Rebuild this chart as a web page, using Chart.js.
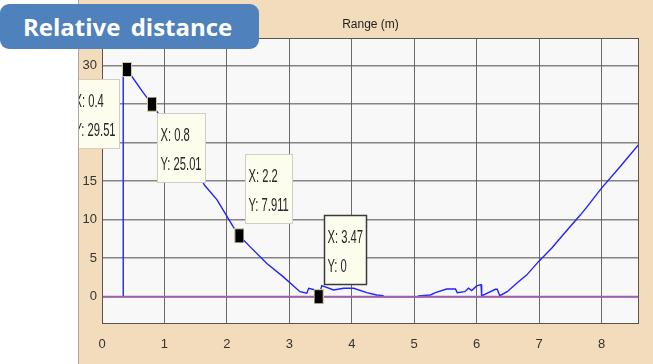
<!DOCTYPE html>
<html>
<head>
<meta charset="utf-8">
<script src="https://cdn.jsdelivr.net/npm/chart.js@4.4.1/dist/chart.umd.min.js"></script>
<style>
  body { margin: 0; background: #fff; }
  #wrap { position: relative; width: 653px; height: 364px; overflow: hidden; }
  #badge {
    position: absolute; left: 0; top: 4px; width: 259px; height: 45px;
    background: #4f81bd; border-radius: 9px; color: #fff;
    font: bold 24px "Open Sans", "Noto Sans", sans-serif; line-height: 45px;
    padding-left: 23px; box-sizing: border-box; word-spacing: 4px;
  }
</style>
</head>
<body>
<div id="wrap">
  <canvas id="rangeChart" width="653" height="364"></canvas>
  <div id="badge">Relative distance</div>
</div>
<script>
// range curve
const curveX = [0.34, 0.34, 0.4, 0.66, 0.8, 1.0, 1.2, 1.4, 1.65, 1.84, 2.1, 2.2, 2.37, 2.64, 2.9, 3.17, 3.28, 3.31, 3.4, 3.45, 3.47, 3.52, 3.71, 3.87, 4.03, 4.24, 4.4, 4.5, 4.5, 5.07, 5.07, 5.26, 5.34, 5.52, 5.66, 5.69, 5.81, 5.87, 5.92, 6.0, 6.07, 6.08, 6.3, 6.33, 6.37, 6.49, 6.65, 6.8, 6.99, 7.2, 7.45, 7.66, 7.77, 8.0, 8.3, 8.6];
const curveY = [0, 30, 29.51, 26.5, 25.01, 22.6, 20.2, 17.6, 14.4, 12.6, 9.1, 7.911, 6.5, 4.3, 2.6, 0.65, 0.44, 1.09, 0.9, 0.9, 0, 1.43, 0.87, 1.09, 1.09, 0.52, 0.22, 0.13, 0, 0, 0.1, 0.22, 0.52, 1.0, 1.0, 0.52, 0.65, 1.1, 0.8, 1.4, 1.56, 0.1, 0.96, 0.96, 0.13, 0.65, 1.82, 2.8, 4.55, 6.3, 8.67, 10.6, 11.7, 14.1, 16.9, 19.8];

// data tips
const tipX = [0.4, 0.8, 2.2, 3.47];
const tipY = [29.51, 25.01, 7.911, 0];

// axes
const xMin = 0, xMax = 8.6;
const yMin = -3.55, yMax = 33.6;
const xStep = 1, yStep = 5;

const narrow = '"Liberation Sans Narrow", "Liberation Sans", Arial, sans-serif';
const tickFont = { family: narrow, size: 13 };

// marker image for the data tips
const marker = document.createElement('canvas');
marker.width = 10; marker.height = 15;
(function () {
    const m = marker.getContext('2d');
    m.fillStyle = '#cfc7a0';
    m.fillRect(0, 0, 10, 15);
    m.fillStyle = '#000';
    m.fillRect(1, 1, 8, 13);
})();

// where each tip box sits next to its marker
const tipPlacement = [
    { side: 'left', dy: 10 },
    { side: 'right', dy: 9 },
    { side: 'right', dy: -82 },
    { side: 'right', dy: -82, active: true }
];

const matlabLook = {
    id: 'matlabLook',
    beforeDraw(chart) {
        const { ctx, chartArea: a, width, height } = chart;
        ctx.save();
        ctx.fillStyle = '#ffffff';
        ctx.fillRect(0, 0, width, height);
        ctx.fillStyle = '#f3dcbb';
        ctx.fillRect(79, 0, width - 79, height);
        ctx.fillStyle = '#f8f8f8';
        ctx.fillRect(a.left, a.top, a.right - a.left, a.bottom - a.top);
        ctx.restore();
    },
    afterDraw(chart) {
        const { ctx, chartArea: a, height } = chart;
        const xs = chart.scales.x, ys = chart.scales.y;
        const sx = 0.8, sy = 1.35;
        ctx.save();
        // axes box
        ctx.strokeStyle = '#555';
        ctx.lineWidth = 1;
        ctx.strokeRect(a.left + 0.5, a.top + 0.5, a.right - a.left - 1, a.bottom - a.top - 1);

        // data tip boxes
        ctx.font = '14px "Liberation Sans", Arial, sans-serif';
        ctx.textBaseline = 'middle';
        tipX.forEach((tx, i) => {
            const px = xs.getPixelForValue(tx);
            const py = ys.getPixelForValue(tipY[i]);
            const p = tipPlacement[i];
            const lines = ['X: ' + tx, 'Y: ' + tipY[i]];
            const w = Math.round(Math.max(...lines.map(t => ctx.measureText(t).width)) * sx + 8);
            const h = 70;
            const left = p.side === 'left' ? Math.round(px - 7 - w) : Math.round(px + 5.5);
            const top = Math.round(py + p.dy);
            ctx.fillStyle = '#fdfdee';
            ctx.fillRect(left, top, w, h);
            ctx.strokeStyle = p.active ? '#3a3a3a' : '#cfcfc4';
            ctx.lineWidth = p.active ? 1.5 : 1;
            ctx.strokeRect(left + 0.5, top + 0.5, w - 1, h - 1);
            ctx.fillStyle = '#262626';
            lines.forEach((t, k) => {
                ctx.save();
                ctx.translate(left + 3.5, top + (k === 0 ? 23 : 52));
                ctx.scale(sx, sy);
                ctx.fillText(t, 0, 0);
                ctx.restore();
            });
        });

        // screenshot edge on the left
        ctx.fillStyle = '#ffffff';
        ctx.fillRect(0, 0, 78, height);
        ctx.fillStyle = '#a8a8a8';
        ctx.fillRect(78, 0, 1, height);
        ctx.restore();
    }
};

const curvePts = curveX.map((x, i) => ({ x: x, y: curveY[i] }));
const tipPts = tipX.map((x, i) => ({ x: x, y: tipY[i] }));
const zeroPts = [{ x: xMin, y: 0 }, { x: xMax, y: 0 }];

new Chart(document.getElementById('rangeChart'), {
    type: 'scatter',
    data: {
        datasets: [
            {
                label: 'tips',
                data: tipPts,
                pointStyle: marker,
                pointRadius: 6,
                showLine: false,
                order: 0
            },
            {
                label: 'zero',
                data: zeroPts,
                showLine: true,
                borderColor: '#9e62ad',
                borderWidth: 2,
                pointRadius: 0,
                order: 1
            },
            {
                label: 'Range',
                data: curvePts,
                showLine: true,
                borderColor: '#2222ff',
                borderWidth: 1.4,
                pointRadius: 0,
                tension: 0,
                order: 2
            }
        ]
    },
    options: {
        responsive: false,
        animation: false,
        layout: { padding: { left: 0, right: 14, top: 0, bottom: 0 } },
        plugins: {
            legend: { display: false },
            tooltip: { enabled: false }
        },
        scales: {
            x: {
                type: 'linear',
                position: 'bottom',
                min: xMin,
                max: xMax,
                border: { display: false },
                grid: { color: '#6a6a6a', lineWidth: 1, drawTicks: false },
                ticks: { stepSize: xStep, includeBounds: false, padding: 13, color: '#333', font: tickFont },
                afterFit(s) { s.height = 40; }
            },
            x2: {
                type: 'linear',
                position: 'top',
                min: xMin,
                max: xMax,
                border: { display: false },
                grid: { display: false },
                ticks: { display: false },
                title: {
                    display: true,
                    text: 'Range (m)',
                    color: '#222',
                    font: { family: narrow, size: 12 },
                    padding: { top: 17, bottom: 0 }
                },
                afterFit(s) { s.height = 38; }
            },
            y: {
                type: 'linear',
                min: yMin,
                max: yMax,
                border: { display: false },
                grid: { color: 'rgba(95,95,95,0.75)', lineWidth: 1.5, drawTicks: false },
                ticks: { stepSize: yStep, includeBounds: false, padding: 5, color: '#333', font: tickFont },
                afterFit(s) { s.width = 102; }
            }
        }
    },
    plugins: [matlabLook]
});
</script>
</body>
</html>
